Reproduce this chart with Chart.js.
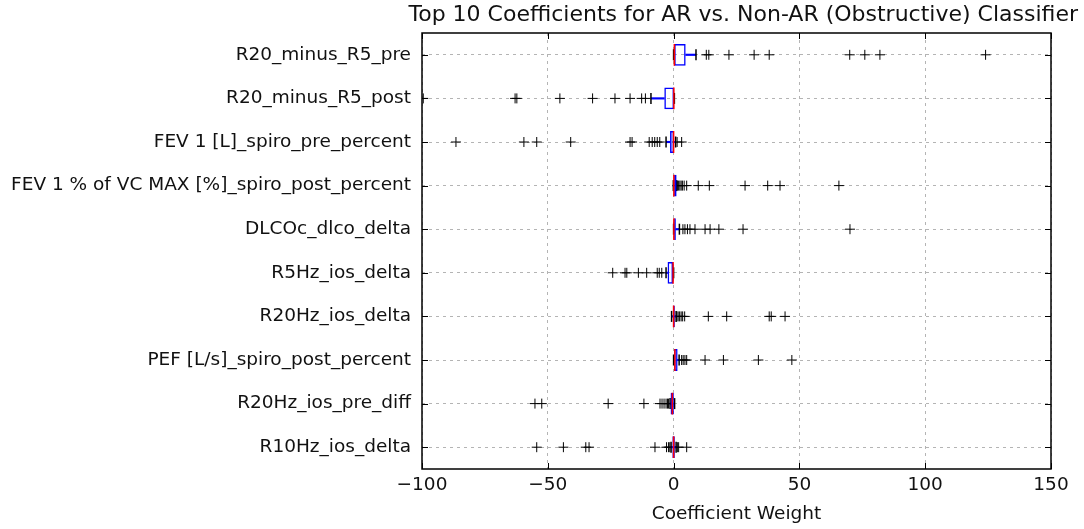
<!DOCTYPE html>
<html>
<head>
<meta charset="utf-8">
<script src="https://cdn.jsdelivr.net/npm/chart.js@4.4.1/dist/chart.umd.min.js"></script>
<style>
  body { margin: 0; background: #fff; }
</style>
</head>
<body>
<canvas id="coefChart" width="1084" height="529"></canvas>
<script>
// features, top to bottom
const features = [
    'R20_minus_R5_pre',
    'R20_minus_R5_post',
    'FEV 1 [L]_spiro_pre_percent',
    'FEV 1 % of VC MAX [%]_spiro_post_percent',
    'DLCOc_dlco_delta',
    'R5Hz_ios_delta',
    'R20Hz_ios_delta',
    'PEF [L/s]_spiro_post_percent',
    'R20Hz_ios_pre_diff',
    'R10Hz_ios_delta'
];

// box stats
const q1      = [0,    -3.7, -1.4, 0,    0,    -2.4, -0.3, 0,    -1.2, -0.5];
const q3      = [4.8,   0.2,  0.2, 1.2,  0.9,   0,    0.5, 1.6,   0.1,  0.5];
const medians = [0.3,   0.1,  0,   0.1,  0.1,  -0.2,  0,   0.5,  -0.5,  0];
const whiskLo = [0,    -9,   -3,  -0.1,  0,    -3,   -0.8, 0,    -1.4, -1];
const whiskHi = [8.9,   0.3,  0.8, 1.2,  2.3,   0,    1.0, 2.2,   0.4,  1];

const fliers = [
    [13, 14, 22, 32, 38, 70, 76, 82, 124],
    [-99.5, -63, -62.3, -45.2, -32.2, -23.3, -17.3, -12.7, -11.2],
    [-86.5, -59.5, -54.4, -40.9, -17.3, -16.5, -9.7, -8.5, -7.5, -6.5, -5.5, 1.4, 3.2],
    [1.5, 2, 2.5, 3, 3.5, 4.2, 5.2, 9.8, 14.2, 28.4, 37.4, 42.3, 65.7],
    [3.7, 4.5, 5.5, 6.5, 8.5, 12.5, 14.5, 18, 27.6, 70.1],
    [-24.2, -19.3, -18.6, -14, -10.7, -6.5, -5.7, -4.7],
    [1.3, 1.8, 2.4, 3, 3.6, 4.4, 13.8, 21.1, 38, 38.8, 44.3],
    [3.2, 3.8, 4.5, 5.2, 12.5, 19.8, 33.7, 47],
    [-55.1, -52.4, -26, -11.8, -5.4, -4.6, -3.8, -3, -2.4, -2],
    [-54.4, -43.8, -34.9, -33.6, -7.4, -2.8, -2, -1.5, 1.5, 2, 5.2]
];

const xTicks = [-100, -50, 0, 50, 100, 150];

const FONT = "'DejaVu Sans', sans-serif";
const GRID = '#b4b4b4';

// matplotlib classic frame with inward ticks
const framePlugin = {
    id: 'frame',
    afterDraw(chart) {
        const {ctx, chartArea: a, scales} = chart;
        ctx.save();
        ctx.strokeStyle = '#000';
        ctx.lineWidth = 1;
        ctx.beginPath();
        scales.y.ticks.forEach((t, i) => {
            const y = Math.round(scales.y.getPixelForTick(i)) + 0.5;
            ctx.moveTo(a.left, y); ctx.lineTo(a.left + 6, y);
            ctx.moveTo(a.right, y); ctx.lineTo(a.right - 6, y);
        });
        scales.x.ticks.forEach((t, i) => {
            const x = Math.round(scales.x.getPixelForTick(i)) + 0.5;
            ctx.moveTo(x, a.bottom); ctx.lineTo(x, a.bottom - 6);
            ctx.moveTo(x, a.top); ctx.lineTo(x, a.top + 6);
        });
        ctx.stroke();
        ctx.lineWidth = 1.5;
        ctx.strokeRect(a.left, a.top, a.right - a.left, a.bottom - a.top);
        ctx.restore();
    }
};

function pointsFor(values) {
    return features.map((f, i) => ({x: values[i], y: f}));
}

const flierPoints = [];
fliers.forEach((row, i) => row.forEach(v => flierPoints.push({x: v, y: features[i]})));

const capPoints = pointsFor(whiskLo).concat(pointsFor(whiskHi));

new Chart(document.getElementById('coefChart'), {
    type: 'bar',
    data: {
        labels: features,
        datasets: [
            {
                type: 'scatter',
                label: 'median',
                data: pointsFor(medians),
                pointStyle: 'line',
                pointRotation: 90,
                pointRadius: 10.9,
                pointBorderColor: '#ff0000',
                pointBorderWidth: 1.5,
                order: 0
            },
            {
                label: 'box',
                data: features.map((f, i) => [q1[i], q3[i]]),
                backgroundColor: 'rgba(0,0,0,0)',
                borderColor: '#0000ff',
                borderWidth: 1.5,
                borderSkipped: false,
                barPercentage: 0.5,
                categoryPercentage: 1,
                grouped: false,
                order: 1
            },
            {
                type: 'scatter',
                label: 'caps',
                data: capPoints,
                pointStyle: 'line',
                pointRotation: 90,
                pointRadius: 5.5,
                pointBorderColor: '#000',
                pointBorderWidth: 1.5,
                order: 2
            },
            {
                label: 'whisker low',
                data: features.map((f, i) => [whiskLo[i], q1[i]]),
                backgroundColor: '#0000ff',
                borderWidth: 0,
                barThickness: 1.5,
                grouped: false,
                order: 3
            },
            {
                label: 'whisker high',
                data: features.map((f, i) => [q3[i], whiskHi[i]]),
                backgroundColor: '#0000ff',
                borderWidth: 0,
                barThickness: 1.5,
                grouped: false,
                order: 3
            },
            {
                type: 'scatter',
                label: 'fliers',
                data: flierPoints,
                pointStyle: 'cross',
                pointRadius: 5,
                pointBorderColor: '#000',
                pointBorderWidth: 1,
                order: 4
            }
        ]
    },
    options: {
        indexAxis: 'y',
        responsive: false,
        animation: false,
        layout: {
            padding: {left: 0, right: 6, top: 0, bottom: 0}
        },
        plugins: {
            legend: {display: false},
            tooltip: {enabled: false},
            title: {
                display: true,
                text: 'Top 10 Coefficients for AR vs. Non-AR (Obstructive) Classifier',
                align: 'end',
                color: '#111',
                font: {family: FONT, size: 22, weight: 'normal', lineHeight: 1.2},
                padding: {top: 2, bottom: 4.6}
            }
        },
        scales: {
            x: {
                type: 'linear',
                min: -100,
                max: 150,
                afterBuildTicks: s => { s.ticks = xTicks.map(v => ({value: v})); },
                afterFit: s => { s.height = 60; },
                ticks: {
                    color: '#111',
                    padding: 5,
                    font: {family: FONT, size: 18.5},
                    callback: v => (v < 0 ? '\u2212' + Math.abs(v) : String(v))
                },
                grid: {color: GRID, lineWidth: 1, drawTicks: false},
                border: {display: false, dash: [3, 4]},
                title: {
                    display: true,
                    text: 'Coefficient Weight',
                    color: '#111',
                    font: {family: FONT, size: 18.5},
                    padding: {top: 0, bottom: 4}
                }
            },
            y: {
                type: 'category',
                offset: true,
                afterFit: s => { s.width = 422; },
                ticks: {
                    color: '#111',
                    padding: 11,
                    font: {family: FONT, size: 18.5}
                },
                grid: {color: GRID, lineWidth: 1, drawTicks: false, offset: false},
                border: {display: false, dash: [3, 4]}
            },
            y2: {
                type: 'linear',
                position: 'right',
                display: true,
                afterFit: s => { s.width = 27; },
                ticks: {display: false},
                grid: {display: false, drawTicks: false},
                border: {display: false}
            }
        }
    },
    plugins: [framePlugin]
});
</script>
</body>
</html>
